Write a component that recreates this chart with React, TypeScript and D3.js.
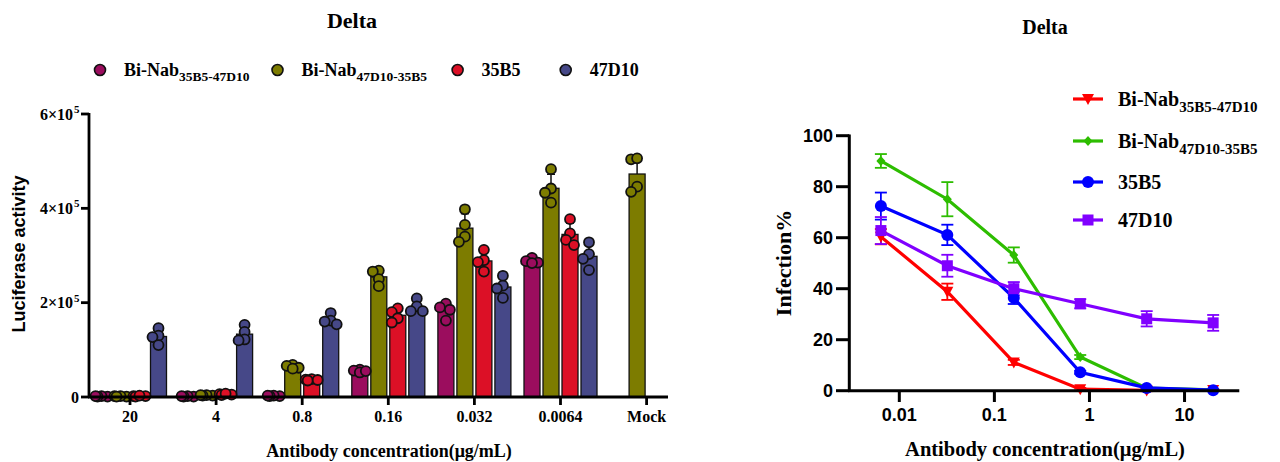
import React from "react";
import * as d3 from "d3";

// ---------- Left chart data (luciferase activity, raw units) ----------
const categories = ["20", "4", "0.8", "0.16", "0.032", "0.0064", "Mock"];
const barSeriesKeys = ["bi35", "bi47", "b35", "d47"];
const barColors = ["#9b0d5e", "#7d7c00", "#dc1026", "#464888"];
const legendMain = ["Bi-Nab", "Bi-Nab", "35B5", "47D10"];
const legendSub = ["35B5-47D10", "47D10-35B5", "", ""];

const E5 = 100000;
const bi35Values: (number[] | null)[] = [
  [0.01, 0.02, 0.01, 0.02],
  [0.01, 0.02, 0.01, 0.02],
  [0.02, 0.03, 0.02, 0.03],
  [0.58, 0.56, 0.52, 0.55],
  [1.98, 1.9, 1.85, 1.62],
  [2.95, 2.88, 2.85, 2.84],
  null,
];
const bi47Values: (number[] | null)[] = [
  [0.01, 0.02, 0.02, 0.01],
  [0.03, 0.04, 0.03, 0.04],
  [0.68, 0.66, 0.62, 0.6],
  [2.68, 2.66, 2.5, 2.35],
  [3.98, 3.65, 3.4, 3.29],
  [4.83, 4.42, 4.33, 4.12],
  [5.04, 5.06, 4.46, 4.35],
];
const b35Values: (number[] | null)[] = [
  [0.02, 0.01, 0.02, 0.03],
  [0.05, 0.06, 0.04, 0.07],
  [0.38, 0.37, 0.35, 0.36],
  [1.88, 1.8, 1.67, 1.58],
  [3.12, 2.9, 2.86, 2.66],
  [3.77, 3.47, 3.33, 3.22],
  null,
];
const d47Values: (number[] | null)[] = [
  [1.46, 1.3, 1.27, 1.1],
  [1.53, 1.38, 1.22, 1.2],
  [1.78, 1.62, 1.6, 1.54],
  [2.09, 1.92, 1.82, 1.82],
  [2.57, 2.36, 2.3, 2.1],
  [3.28, 3.03, 2.93, 2.69],
  null,
];
const barSeriesValues = [bi35Values, bi47Values, b35Values, d47Values];
const leftYTicks = [0, 2, 4, 6];

// ---------- Right chart data (infection %) ----------
const concentrations = [0.0064, 0.032, 0.16, 0.8, 4, 20];
const lineColors = ["#ff0000", "#2dbd00", "#0000ff", "#8000ff"];
const lineMarkers = ["triangle", "diamond", "circle", "square"];
const redMeans = [60.4, 38.8, 11.1, 0.6, 0.1, 0.3];
const redSds = [3, 3.2, 1, 0.5, 0.3, 0.3];
const greenMeans = [90.1, 75.1, 53.2, 13.2, 1.0, 0.3];
const greenSds = [2.7, 6.7, 3, 0.8, 0.3, 0.2];
const blueMeans = [72.4, 61.1, 36.4, 7.2, 1.1, 0.2];
const blueSds = [5.3, 4.0, 2.4, 0.6, 0.4, 0.2];
const purpleMeans = [62.8, 49.0, 40.0, 34.1, 28.2, 26.6];
const purpleSds = [5.3, 4.3, 2.6, 1.8, 3.0, 3.1];
const lineMeans = [redMeans, greenMeans, blueMeans, purpleMeans];
const lineSds = [redSds, greenSds, blueSds, purpleSds];
const rightYTicks = [0, 20, 40, 60, 80, 100];
const rightXTicks = [0.01, 0.1, 1, 10];

const SERIF = "'Liberation Serif', 'Times New Roman', serif";
const SANS = "'Liberation Sans', Arial, sans-serif";

function mean(a: number[]) {
  return d3.mean(a) as number;
}
function sd(a: number[]) {
  return (d3.deviation(a) as number) || 0;
}

function swarm(ys: number[], r: number): number[] {
  const order = ys.map((y, i) => i).sort((a, b) => ys[a] - ys[b]);
  const cands = [0, -4, 4, -6, 6];
  const placed: { x: number; y: number }[] = [];
  const out = new Array(ys.length).fill(0);
  for (const i of order) {
    let best = 0;
    let bestD = -1;
    for (const c of cands) {
      let minD = Infinity;
      for (const p of placed) {
        const d = Math.hypot(p.x - c, p.y - ys[i]);
        if (d < minD) minD = d;
      }
      if (minD >= r * 1.4) {
        best = c;
        bestD = Infinity;
        break;
      }
      if (minD > bestD) {
        bestD = minD;
        best = c;
      }
    }
    placed.push({ x: best, y: ys[i] });
    out[i] = best;
  }
  return out;
}

function LeftChart() {
  const x = d3.scalePoint<string>().domain(categories).range([86.95, 689.65]).padding(0.5);
  const inner = d3.scaleBand<string>().domain(barSeriesKeys).range([-38, 38]);
  const y = d3.scaleLinear().domain([0, 6 * E5]).range([397, 114]);
  const barW = 16;
  const r = 5;
  const legendX = [100, 277.5, 457.6, 565.7];

  const bars: React.ReactNode[] = [];
  const errs: React.ReactNode[] = [];
  const pts: React.ReactNode[] = [];
  barSeriesValues.forEach((series, si) => {
    series.forEach((vals, ci) => {
      if (!vals) return;
      const raw = vals.map((v) => v * E5);
      const cx = (x(categories[ci]) as number) + (inner(barSeriesKeys[si]) as number) + inner.bandwidth() / 2;
      const m = mean(raw);
      const s = sd(raw);
      bars.push(
        <rect
          key={`b${si}-${ci}`}
          x={cx - barW / 2}
          y={y(m)}
          width={barW}
          height={y(0) - y(m)}
          fill={barColors[si]}
          stroke="#111"
          strokeWidth={1.3}
        />
      );
      errs.push(
        <g key={`e${si}-${ci}`} stroke="#111" strokeWidth={1.5}>
          <line x1={cx} x2={cx} y1={y(m)} y2={y(m + s)} />
          <line x1={cx - 4} x2={cx + 4} y1={y(m + s)} y2={y(m + s)} />
        </g>
      );
      const ys = raw.map((v) => y(v));
      const offs = swarm(ys, r);
      ys.forEach((py, pi) => {
        pts.push(
          <circle
            key={`p${si}-${ci}-${pi}`}
            cx={cx + offs[pi]}
            cy={py}
            r={r}
            fill={barColors[si]}
            stroke="#111"
            strokeWidth={1.8}
          />
        );
      });
    });
  });

  return (
    <g>
      <text x={352} y={28} textAnchor="middle" fontFamily={SERIF} fontWeight="bold" fontSize={22}>
        Delta
      </text>
      {/* legend */}
      {legendMain.map((t, i) => (
        <g key={`lg${i}`}>
          <circle cx={legendX[i]} cy={70} r={5.5} fill={barColors[i]} stroke="#111" strokeWidth={1.6} />
          <text x={legendX[i] + 24} y={76} fontFamily={SERIF} fontWeight="bold" fontSize={18}>
            {t}
            {legendSub[i] && (
              <tspan fontSize={13.5} dy={5}>
                {legendSub[i]}
              </tspan>
            )}
          </text>
        </g>
      ))}
      {bars}
      {errs}
      {pts}
      {/* axes */}
      <line x1={89} x2={89} y1={113} y2={398} stroke="#000" strokeWidth={2.8} />
      <line x1={88} x2={668} y1={397} y2={397} stroke="#000" strokeWidth={2.8} />
      {leftYTicks.map((t) => (
        <g key={`ly${t}`}>
          <line x1={81} x2={89} y1={y(t * E5)} y2={y(t * E5)} stroke="#000" strokeWidth={2.8} />
          <text
            x={t === 0 ? 79 : 73}
            y={y(t * E5) + 5.5}
            textAnchor="end"
            fontFamily={SERIF}
            fontWeight="bold"
            fontSize={16}
          >
            {t === 0 ? "0" : `${t}×10`}
          </text>
          {t !== 0 && (
            <text x={74} y={y(t * E5) - 1} textAnchor="start" fontFamily={SERIF} fontWeight="bold" fontSize={11}>
              5
            </text>
          )}
        </g>
      ))}
      {categories.map((c) => (
        <g key={`lx${c}`}>
          <line x1={x(c)} x2={x(c)} y1={397} y2={405} stroke="#000" strokeWidth={2.8} />
          <text x={x(c)} y={422} textAnchor="middle" fontFamily={SERIF} fontWeight="bold" fontSize={16}>
            {c}
          </text>
        </g>
      ))}
      <text x={389} y={457} textAnchor="middle" fontFamily={SERIF} fontWeight="bold" fontSize={18}>
        Antibody concentration(μg/mL)
      </text>
      <text
        transform="translate(25,254) rotate(-90)"
        textAnchor="middle"
        fontFamily={SANS}
        fontWeight="bold"
        fontSize={18}
      >
        Luciferase activity
      </text>
    </g>
  );
}

function Marker({ type, cx, cy, color }: { type: string; cx: number; cy: number; color: string }) {
  if (type === "circle") return <circle cx={cx} cy={cy} r={6} fill={color} />;
  if (type === "square") return <rect x={cx - 5.5} y={cy - 5.5} width={11} height={11} fill={color} />;
  if (type === "diamond")
    return <path d={`M${cx},${cy - 5}L${cx + 4.5},${cy}L${cx},${cy + 5}L${cx - 4.5},${cy}Z`} fill={color} />;
  return <path d={`M${cx - 6},${cy - 5}L${cx + 6},${cy - 5}L${cx},${cy + 6}Z`} fill={color} />;
}

function RightChart() {
  const x = d3.scaleLog().domain([Math.pow(10, -2.526), Math.pow(10, 1.576)]).range([849.3, 1239.3]);
  const y = d3.scaleLinear().domain([0, 100]).range([390.7, 135.7]);
  const line = d3
    .line<number>()
    .x((d, i) => x(concentrations[i]))
    .y((d) => y(d));
  const legendY = [99, 141, 182, 220];

  return (
    <g>
      <text x={1045} y={34} textAnchor="middle" fontFamily={SERIF} fontWeight="bold" fontSize={20}>
        Delta
      </text>
      {/* error bars */}
      {lineMeans.map((ms, si) => (
        <g key={`re${si}`} stroke={lineColors[si]} strokeWidth={1.8}>
          {ms.map((m, i) => {
            const cx = x(concentrations[i]);
            const s = lineSds[si][i];
            return (
              <g key={i}>
                <line x1={cx} x2={cx} y1={y(m - s)} y2={y(m + s)} />
                <line x1={cx - 6} x2={cx + 6} y1={y(m + s)} y2={y(m + s)} />
                <line x1={cx - 6} x2={cx + 6} y1={y(m - s)} y2={y(m - s)} />
              </g>
            );
          })}
        </g>
      ))}
      {lineMeans.map((ms, si) => (
        <path key={`rl${si}`} d={line(ms) as string} fill="none" stroke={lineColors[si]} strokeWidth={3.2} />
      ))}
      {lineMeans.map((ms, si) => (
        <g key={`rm${si}`}>
          {ms.map((m, i) => (
            <Marker key={i} type={lineMarkers[si]} cx={x(concentrations[i])} cy={y(m)} color={lineColors[si]} />
          ))}
        </g>
      ))}
      {/* axes */}
      <line x1={849.3} x2={849.3} y1={134.5} y2={392} stroke="#000" strokeWidth={3} />
      <line x1={848} x2={1239.3} y1={390.7} y2={390.7} stroke="#000" strokeWidth={3} />
      {rightYTicks.map((t) => (
        <g key={`ry${t}`}>
          <line x1={836} x2={849.3} y1={y(t)} y2={y(t)} stroke="#000" strokeWidth={3} />
          <text x={833} y={y(t) + 6.5} textAnchor="end" fontFamily={SANS} fontWeight="bold" fontSize={18}>
            {t}
          </text>
        </g>
      ))}
      {rightXTicks.map((t) => (
        <g key={`rx${t}`}>
          <line x1={x(t)} x2={x(t)} y1={390.7} y2={402} stroke="#000" strokeWidth={3} />
          <text x={x(t)} y={421} textAnchor="middle" fontFamily={SANS} fontWeight="bold" fontSize={18}>
            {String(t)}
          </text>
        </g>
      ))}
      <text x={1045} y={456} textAnchor="middle" fontFamily={SERIF} fontWeight="bold" fontSize={20.5}>
        Antibody concentration(μg/mL)
      </text>
      <text
        transform="translate(791,263) rotate(-90)"
        textAnchor="middle"
        fontFamily={SERIF}
        fontWeight="bold"
        fontSize={22}
      >
        Infection%
      </text>
      {/* legend */}
      {legendMain.map((t, i) => (
        <g key={`rlg${i}`}>
          <line x1={1073} x2={1103} y1={legendY[i]} y2={legendY[i]} stroke={lineColors[i]} strokeWidth={3.2} />
          <Marker type={lineMarkers[i]} cx={1088} cy={legendY[i]} color={lineColors[i]} />
          <text x={1118} y={legendY[i] + 7} fontFamily={SERIF} fontWeight="bold" fontSize={20}>
            {t}
            {legendSub[i] && (
              <tspan fontSize={15} dy={6}>
                {legendSub[i]}
              </tspan>
            )}
          </text>
        </g>
      ))}
    </g>
  );
}

export default function App() {
  return (
    <svg
      width={1280}
      height={462}
      viewBox="0 0 1280 462"
      style={{ position: "absolute", left: 0, top: 0, background: "#fff" }}
    >
      <rect width={1280} height={462} fill="#fff" />
      <LeftChart />
      <RightChart />
    </svg>
  );
}
